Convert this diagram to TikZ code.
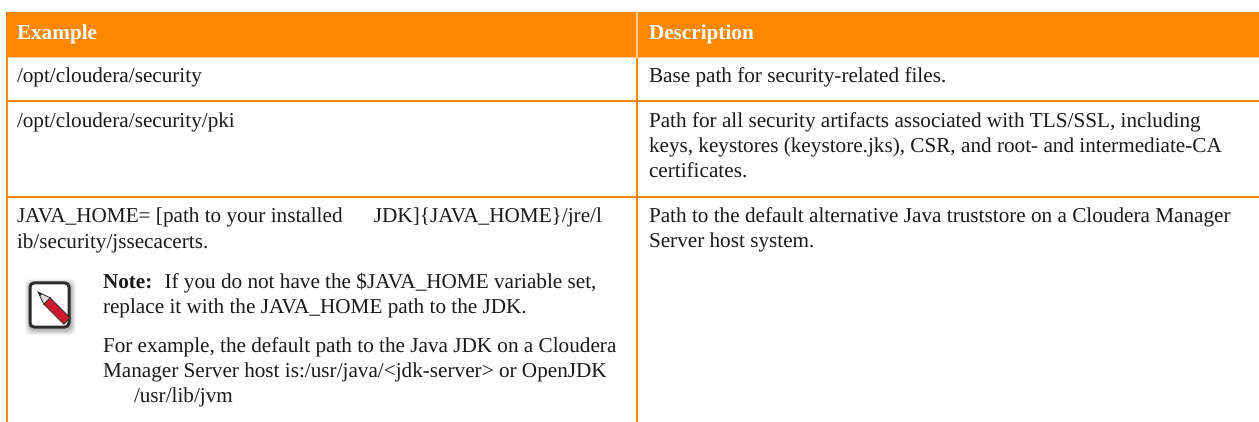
\documentclass[tikz,border=0pt]{standalone}
\usepackage{fontspec}
\setmainfont{Liberation Serif}
\definecolor{hdr}{RGB}{255,136,0}
\definecolor{hdrlight}{RGB}{255,200,140}
\definecolor{txt}{RGB}{26,26,26}
\definecolor{penred}{RGB}{205,25,45}
\definecolor{frame}{RGB}{45,45,45}
\begin{document}
\begin{tikzpicture}[x=1pt,y=-1pt,
  every node/.style={inner sep=0pt, outer sep=0pt},
  cell/.style={anchor=base west, font=\fontsize{21.2}{25}\selectfont, text=txt},
  head/.style={anchor=base west, font=\fontsize{21.2}{25}\selectfont\bfseries, text=white},
  tablerule/.style={draw=hdr, line width=2}]
\useasboundingbox[fill=white] (0,0) rectangle (1259,422);
% header band
\fill[hdr] (6,12) rectangle (1259,57);
\draw[draw=hdrlight, line width=1.2] (637,12) -- (637,57);
\draw[draw=hdrlight, line width=1] (6,57.5) -- (1259,57.5);
% grid
\draw[tablerule] (7,57) -- (7,422);
\draw[tablerule] (637,58) -- (637,422);
\draw[tablerule] (6,101) -- (1259,101);
\draw[tablerule] (6,197) -- (1259,197);
% header
\node[head] (hEx) at (17,40) {Example};
\node[head] (hDe) at (649,40) {Description};
% row 1
\node[cell] (r1a) at (17,83) {/opt/cloudera/security};
\node[cell] (r1b) at (649,83) {Base path for security-related files.};
% row 2
\node[cell] (r2a) at (17,128) {/opt/cloudera/security/pki};
\node[cell] (r2b1) at (649,128) {Path for all security artifacts associated with TLS/SSL, including};
\node[cell] (r2b2) at (649,153) {keys, keystores (keystore.jks), CSR, and root- and intermediate-CA};
\node[cell] (r2b3) at (649,178) {certificates.};
% row 3
\node[cell] (r3a1) at (17,223) {JAVA\_HOME= [path to your installed\hspace{26pt} JDK]\{JAVA\_HOME\}/jre/l};
\node[cell] (r3a2) at (17,249) {ib/security/jssecacerts.};
\node[cell] (n1) at (103,288) {\textbf{Note:}\hspace{5pt} If you do not have the \$JAVA\_HOME variable set,};
\node[cell] (n2) at (103,313) {replace it with the JAVA\_HOME path to the JDK.};
\node[cell] (n3) at (103,352) {For example, the default path to the Java JDK on a Cloudera};
\node[cell] (n4) at (103,377) {Manager Server host is:/usr/java/<jdk-server> or OpenJDK};
\node[cell] (n5) at (134,402) {/usr/lib/jvm};
\node[cell] (r3b1) at (649,223) {Path to the default alternative Java truststore on a Cloudera Manager};
\node[cell] (r3b2) at (649,248) {Server host system.};
% note icon
\foreach \d/\o in {5/0.04,4/0.05,3/0.06,2/0.07,1/0.08}{
  \fill[black, opacity=\o, rounded corners=6] (30-\d,284-\d) rectangle (71+\d,330+\d);
}
\draw[line width=3, draw=frame, fill=white, rounded corners=4] (30,283) rectangle (69,327);
\fill[penred, draw=frame, line width=0.8] (50.2,297.8) -- (70.2,317.8) -- (63.8,324.2) -- (43.8,304.2) -- cycle;
\fill[white!85!black, draw=frame, line width=0.8] (38,292) -- (50.2,297.8) -- (43.8,304.2) -- cycle;
\fill[frame] (38,292) -- (42,294) -- (40,296) -- cycle;
\end{tikzpicture}
\end{document}
